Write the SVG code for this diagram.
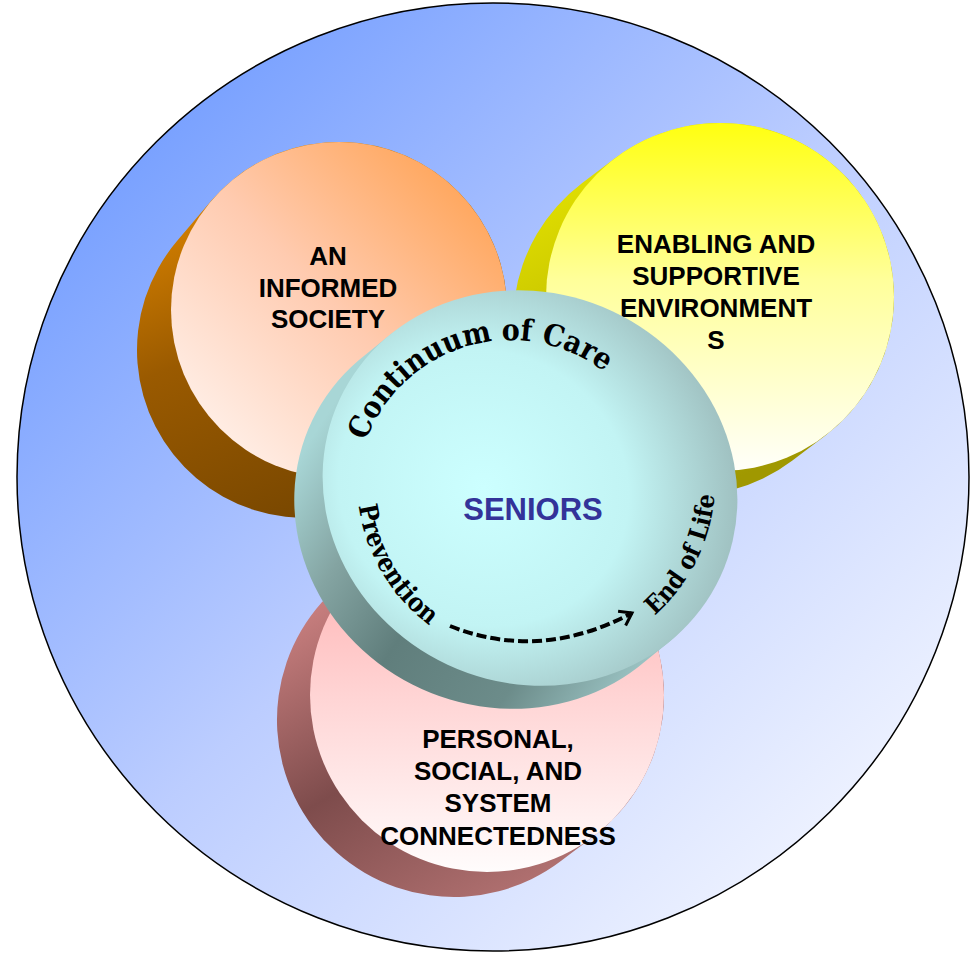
<svg xmlns="http://www.w3.org/2000/svg" width="976" height="953" viewBox="0 0 976 953">
<style>
.lbl{font-family:"Liberation Sans",Arial,sans-serif;font-weight:bold;font-size:26px;fill:#000;text-anchor:middle}
.arc{font-family:"DejaVu Serif Condensed","DejaVu Serif","Liberation Serif",serif;font-stretch:condensed;font-weight:bold;fill:#000}
</style>
<defs>
<linearGradient id="bg" x1="0" y1="0" x2="1" y2="1">
<stop offset="0" stop-color="#5F90FF"/>
<stop offset="0.5" stop-color="#BCCDFF"/>
<stop offset="1" stop-color="#FFFFFF"/>
</linearGradient>
<linearGradient id="orF" x1="1" y1="0" x2="0" y2="1">
<stop offset="0" stop-color="#FF9A40"/>
<stop offset="0.5" stop-color="#FFCBB0"/>
<stop offset="1" stop-color="#FFFAF8"/>
</linearGradient>
<linearGradient id="orS" x1="0" y1="0" x2="0.4" y2="1">
<stop offset="0" stop-color="#F59500"/>
<stop offset="0.55" stop-color="#9A5A00"/>
<stop offset="1" stop-color="#7A4800"/>
</linearGradient>
<linearGradient id="yeF" x1="0" y1="0" x2="0" y2="1">
<stop offset="0" stop-color="#FFFF10"/>
<stop offset="0.45" stop-color="#FFFF9A"/>
<stop offset="1" stop-color="#FFFFFA"/>
</linearGradient>
<linearGradient id="yeS" x1="0" y1="0" x2="0.5" y2="1">
<stop offset="0" stop-color="#EEEE00"/>
<stop offset="1" stop-color="#A09800"/>
</linearGradient>
<linearGradient id="piF" x1="0" y1="0" x2="0" y2="1">
<stop offset="0" stop-color="#FFA8A8"/>
<stop offset="0.5" stop-color="#FFD4D4"/>
<stop offset="1" stop-color="#FFFCFC"/>
</linearGradient>
<linearGradient id="piS" x1="0" y1="0" x2="0.6" y2="1">
<stop offset="0" stop-color="#F09A9A"/>
<stop offset="0.6" stop-color="#7E4C4C"/>
<stop offset="1" stop-color="#B07070"/>
</linearGradient>
<radialGradient id="teF" cx="0.4" cy="0.55" r="0.7">
<stop offset="0" stop-color="#CCFFFF"/>
<stop offset="0.5" stop-color="#C2F4F4"/>
<stop offset="1" stop-color="#94B0B0"/>
</radialGradient>
<linearGradient id="teS" gradientUnits="userSpaceOnUse" x1="-219.6" y1="49.6" x2="181.5" y2="105">
<stop offset="0" stop-color="#A8D6D6"/>
<stop offset="0.22" stop-color="#84A4A2"/>
<stop offset="0.45" stop-color="#607E7C"/>
<stop offset="0.75" stop-color="#6C8C8A"/>
<stop offset="1" stop-color="#9CC4C4"/>
</linearGradient>
<marker id="chev" viewBox="-16 -12 20 24" markerWidth="20" markerHeight="24" refX="0" refY="0" orient="auto" markerUnits="userSpaceOnUse">
<polyline points="-11.5,-8 0,0 -11.5,8" fill="none" stroke="#000" stroke-width="3"/>
</marker>
<path id="topArc" d="M366,441 A154,154 0 0 1 644.4,418"/>
<path id="botArc" d="M358.7,505.9 A179,179 0 0 0 714.9,474.8"/>
</defs>

<g id="background">
<ellipse cx="493" cy="477" rx="476" ry="474" fill="url(#bg)" stroke="#000" stroke-width="1.5"/>
</g>

<g id="enabling">
<path d="M614.9,158.3 L581.9,183.3 A174,174 0 0 0 792.1,460.7 L825.1,435.7 A174,174 0 0 0 614.9,158.3 Z" fill="url(#yeS)"/>
<circle cx="720" cy="297" r="174" fill="url(#yeF)"/>
<text class="lbl"><tspan x="716" y="253">ENABLING AND</tspan><tspan x="716" y="285">SUPPORTIVE</tspan><tspan x="716" y="317">ENVIRONMENT</tspan><tspan x="716" y="349">S</tspan></text>
</g>

<g id="informed">
<path d="M211,201.1 L177,241.1 A168,168 0 0 0 433,458.9 L467,418.9 A168,168 0 0 0 211,201.1 Z" fill="url(#orS)"/>
<circle cx="339" cy="310" r="168" fill="url(#orF)"/>
<text class="lbl"><tspan x="328" y="265">AN</tspan><tspan x="328" y="297">INFORMED</tspan><tspan x="328" y="328">SOCIETY</tspan></text>
</g>

<g id="connectedness">
<path d="M380.1,553.9 L347.1,578.9 A177,177 0 0 0 560.9,861.1 L593.9,836.1 A177,177 0 0 0 380.1,553.9 Z" fill="url(#piS)"/>
<circle cx="487" cy="695" r="177" fill="url(#piF)"/>
<text class="lbl"><tspan x="498" y="748">PERSONAL,</tspan><tspan x="498" y="780">SOCIAL, AND</tspan><tspan x="498" y="812">SYSTEM</tspan><tspan x="498" y="845">CONNECTEDNESS</tspan></text>
</g>

<g id="seniors">
<g transform="translate(530,488) rotate(25)">
<path d="M191.4,80.1 L173.4,117.2 A210,195 0 0 1 -209.4,-43 L-191.4,-80.1 A210,195 0 0 1 191.4,80.1 Z" fill="url(#teS)"/>
<ellipse cx="0" cy="0" rx="210" ry="195" fill="url(#teF)"/>
</g>
<text x="533" y="520" font-family="Liberation Sans, Arial, sans-serif" font-weight="bold" font-size="31" fill="#333399" text-anchor="middle">SENIORS</text>
<text class="arc" font-size="30"><textPath href="#topArc">Continuum of Care</textPath></text>
<text class="arc" font-size="26"><textPath href="#botArc">Prevention</textPath></text>
<text class="arc" font-size="25"><textPath href="#botArc" startOffset="386">End of Life</textPath></text>
</g>

<g id="connectors">
<path d="M450,626 Q540,662 632,613" fill="none" stroke="#000" stroke-width="4" stroke-dasharray="10 4" marker-end="url(#chev)"/>
</g>
</svg>
